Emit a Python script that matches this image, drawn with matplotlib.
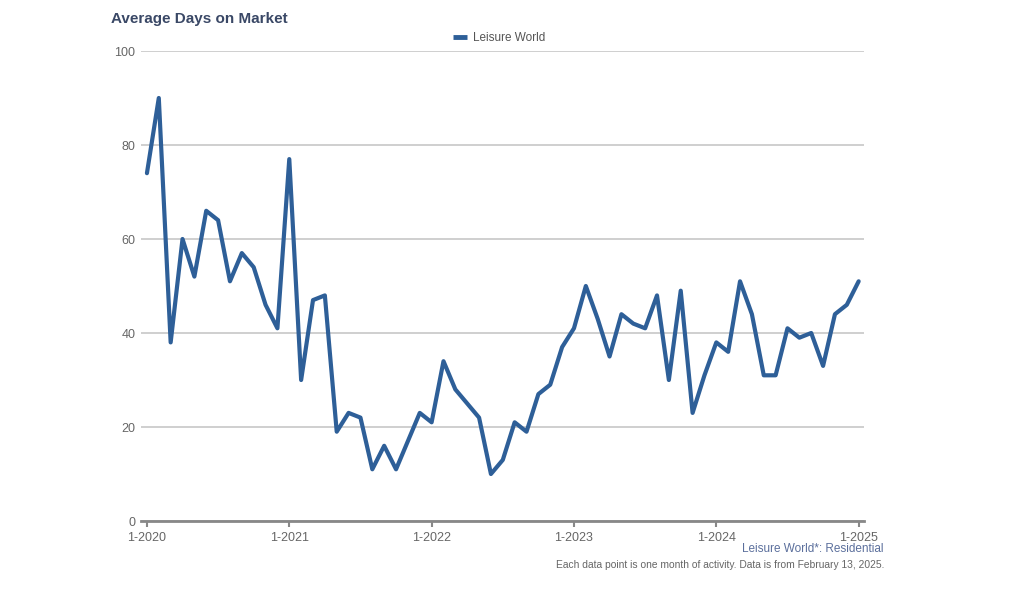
import matplotlib
matplotlib.use("Agg")
import matplotlib.pyplot as plt
import numpy as np

plt.rcParams['font.family'] = ['Liberation Sans', 'DejaVu Sans']

series_name = "Leisure World"
days_on_market = [
    74, 90, 38, 60, 52, 66, 64, 51, 57, 54, 46, 41,   # 2020
    77, 30, 47, 48, 19, 23, 22, 11, 16, 11, 17, 23,   # 2021
    21, 34, 28, 25, 22, 10, 13, 21, 19, 27, 29, 37,   # 2022
    41, 50, 43, 35, 44, 42, 41, 48, 30, 49, 23, 31,   # 2023
    38, 36, 51, 44, 31, 31, 41, 39, 40, 33, 44, 46,   # 2024
    51,                                               # 2025
]
tick_labels = ["1-2020", "1-2021", "1-2022", "1-2023", "1-2024", "1-2025"]
y_ticks = [0, 20, 40, 60, 80, 100]

line_color = "#2e5f98"
title_color = "#3a4866"

fig = plt.figure(figsize=(10.24, 5.89), dpi=100)
ax = fig.add_axes([141/1024, 1 - 521/589, 723/1024, 470/589])

x = np.arange(len(days_on_market))
ax.plot(x, days_on_market, color=line_color, linewidth=3.0, solid_joinstyle='round',
        solid_capstyle='round', label=series_name, zorder=3)

ax.set_xlim(-0.5, 60.45)
ax.set_ylim(0, 100)
ax.set_yticks(y_ticks)
ax.set_yticklabels([str(v) for v in y_ticks])
ax.set_xticks(np.arange(0, 61, 12))
ax.set_xticklabels(tick_labels)

ax.grid(axis='y', color='#cccccc', linewidth=1.3, zorder=0)
ax.grid(axis='x', visible=False)
for s in ['top', 'right', 'left']:
    ax.spines[s].set_visible(False)
ax.spines['bottom'].set_color('#888888')
ax.spines['bottom'].set_linewidth(2.0)
ax.spines['bottom'].set_zorder(4)
ax.tick_params(axis='y', length=0, pad=4, labelsize=9, labelcolor='#666666')
ax.tick_params(axis='x', length=4, width=1.5, color='#888888', pad=4,
               labelsize=9, labelcolor='#666666')

fig.text(111/1024, 1 - 19/589, "Average Days on Market", fontsize=11,
         fontweight='bold', color=title_color, ha='left', va='center')

leg = fig.legend(loc='center', bbox_to_anchor=(499/1024, 1 - 38/589), frameon=False,
                 fontsize=8.5, handlelength=1.2, handletextpad=0.45, labelcolor='#555555')
for h in leg.get_lines():
    h.set_linewidth(3.5)
    h.set_solid_capstyle('butt')

fig.text(884/1024, 1 - 549/589, "Leisure World*: Residential", fontsize=8.5,
         color='#5b6f9c', ha='right', va='center')
fig.text(884/1024, 1 - 565/589,
         "Each data point is one month of activity. Data is from February 13, 2025.",
         fontsize=7.4, color='#666666', ha='right', va='center')

fig.savefig("out.png", dpi=100, facecolor='white')
